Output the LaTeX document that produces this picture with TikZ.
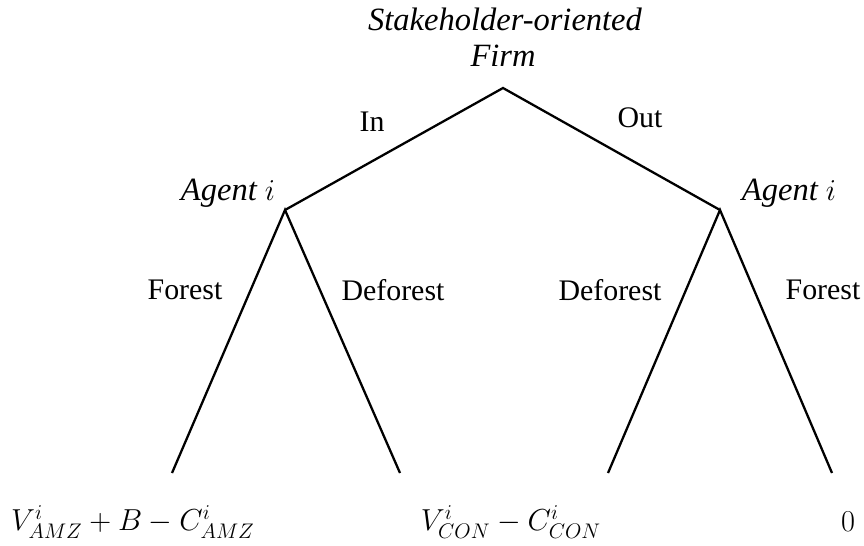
\documentclass[tikz,border=0pt]{standalone}
\usepackage{fontspec}
\setmainfont{Liberation Serif}
\tikzset{
    branch/.style={line width=1.3pt},
    player/.style={font=\fontsize{18.5}{20}\selectfont\itshape},
    payoff/.style={font=\fontsize{17.5}{20}\selectfont}
}
\begin{document}
\begin{tikzpicture}[x=0.02cm,y=-0.02cm,font=\fontsize{17}{19}\selectfont]
    \useasboundingbox (0,0) rectangle (864,545);
    \coordinate (root) at (503,88);
    \coordinate (agentL) at (285,210);
    \coordinate (agentR) at (720,210);
    \coordinate (leafA) at (172,473);
    \coordinate (leafB) at (400,473);
    \coordinate (leafC) at (608,473);
    \coordinate (leafD) at (832,473);
    \draw[branch] (agentL) -- (root) -- (agentR);
    \draw[branch] (leafA) -- (agentL) -- (leafB);
    \draw[branch] (leafC) -- (agentR) -- (leafD);
    \node[player] (firm1) at (505,19) {Stakeholder-oriented};
    \node[player] (firm2) at (503,56) {Firm};
    \node (in) at (372,122) {In};
    \node (out) at (640,118) {Out};
    \node[player] (ag1) at (228,193) {Agent $i$};
    \node[player] (ag2) at (789,193) {Agent $i$};
    \node (fo1) at (185,290) {Forest};
    \node (de1) at (393,290) {Deforest};
    \node (de2) at (610,290) {Deforest};
    \node (fo2) at (823,290) {Forest};
    \node[payoff] (payA) at (133,522) {$V^{i}_{AMZ}+B-C^{i}_{AMZ}$};
    \node[payoff] (payB) at (511,522) {$V^{i}_{CON}-C^{i}_{CON}$};
    \node[payoff] (payC) at (848,522) {$0$};
\end{tikzpicture}
\end{document}
